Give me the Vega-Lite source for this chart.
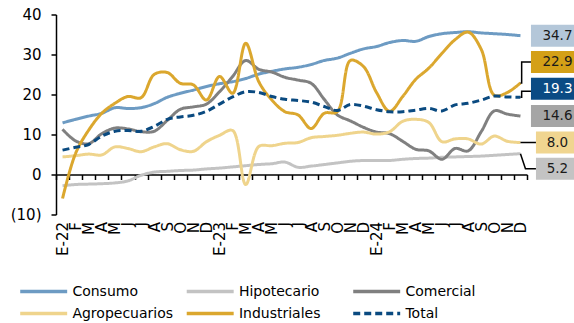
{
  "$schema": "https://vega.github.io/schema/vega-lite/v6.json",
  "width": 471,
  "height": 200,
  "autosize": {"type": "none"},
  "padding": {"left": 56, "top": 14.5, "right": 47, "bottom": 108.5},
  "config": {"view": {"stroke": null}, "font": "DejaVu Sans"},
  "data": {"values": [
    {"mes": "2022-01", "Consumo": 12.9, "Hipotecario": -2.8, "Comercial": 11.3, "Agropecuarios": 4.4, "Industriales": -6.0, "Total": 6.1},
    {"mes": "2022-02", "Consumo": 13.8, "Hipotecario": -2.5, "Comercial": 8.4, "Agropecuarios": 4.7, "Industriales": 5.3, "Total": 6.8},
    {"mes": "2022-03", "Consumo": 14.6, "Hipotecario": -2.4, "Comercial": 7.7, "Agropecuarios": 5.1, "Industriales": 11.1, "Total": 7.5},
    {"mes": "2022-04", "Consumo": 15.3, "Hipotecario": -2.3, "Comercial": 10.2, "Agropecuarios": 4.9, "Industriales": 15.3, "Total": 9.6},
    {"mes": "2022-05", "Consumo": 16.7, "Hipotecario": -2.1, "Comercial": 11.6, "Agropecuarios": 6.9, "Industriales": 17.8, "Total": 10.8},
    {"mes": "2022-06", "Consumo": 16.5, "Hipotecario": -1.6, "Comercial": 11.4, "Agropecuarios": 6.5, "Industriales": 19.5, "Total": 11.0},
    {"mes": "2022-07", "Consumo": 16.7, "Hipotecario": -0.2, "Comercial": 10.7, "Agropecuarios": 5.7, "Industriales": 19.2, "Total": 10.8},
    {"mes": "2022-08", "Consumo": 17.7, "Hipotecario": 0.6, "Comercial": 10.8, "Agropecuarios": 6.9, "Industriales": 25.0, "Total": 12.0},
    {"mes": "2022-09", "Consumo": 19.3, "Hipotecario": 0.8, "Comercial": 13.5, "Agropecuarios": 7.7, "Industriales": 25.5, "Total": 13.8},
    {"mes": "2022-10", "Consumo": 20.3, "Hipotecario": 1.0, "Comercial": 16.3, "Agropecuarios": 6.2, "Industriales": 22.8, "Total": 14.4},
    {"mes": "2022-11", "Consumo": 21.1, "Hipotecario": 1.1, "Comercial": 16.9, "Agropecuarios": 5.8, "Industriales": 22.4, "Total": 14.8},
    {"mes": "2022-12", "Consumo": 22.0, "Hipotecario": 1.4, "Comercial": 17.6, "Agropecuarios": 8.2, "Industriales": 18.6, "Total": 15.8},
    {"mes": "2023-01", "Consumo": 22.7, "Hipotecario": 1.6, "Comercial": 20.7, "Agropecuarios": 9.8, "Industriales": 24.5, "Total": 17.6},
    {"mes": "2023-02", "Consumo": 23.2, "Hipotecario": 1.9, "Comercial": 24.5, "Agropecuarios": 11.0, "Industriales": 20.3, "Total": 19.4},
    {"mes": "2023-03", "Consumo": 24.0, "Hipotecario": 2.2, "Comercial": 28.5, "Agropecuarios": -2.5, "Industriales": 32.8, "Total": 20.7},
    {"mes": "2023-04", "Consumo": 25.1, "Hipotecario": 2.5, "Comercial": 26.3, "Agropecuarios": 7.0, "Industriales": 23.2, "Total": 20.5},
    {"mes": "2023-05", "Consumo": 25.8, "Hipotecario": 2.7, "Comercial": 25.6, "Agropecuarios": 7.2, "Industriales": 18.6, "Total": 19.5},
    {"mes": "2023-06", "Consumo": 26.4, "Hipotecario": 3.1, "Comercial": 24.3, "Agropecuarios": 7.8, "Industriales": 15.7, "Total": 18.8},
    {"mes": "2023-07", "Consumo": 26.8, "Hipotecario": 1.8, "Comercial": 23.6, "Agropecuarios": 8.0, "Industriales": 14.9, "Total": 18.5},
    {"mes": "2023-08", "Consumo": 27.5, "Hipotecario": 2.1, "Comercial": 22.8, "Agropecuarios": 9.2, "Industriales": 11.5, "Total": 18.1},
    {"mes": "2023-09", "Consumo": 28.5, "Hipotecario": 2.5, "Comercial": 18.8, "Agropecuarios": 9.5, "Industriales": 15.3, "Total": 17.0},
    {"mes": "2023-10", "Consumo": 29.1, "Hipotecario": 2.9, "Comercial": 14.9, "Agropecuarios": 9.8, "Industriales": 15.7, "Total": 16.0},
    {"mes": "2023-11", "Consumo": 30.3, "Hipotecario": 3.3, "Comercial": 13.4, "Agropecuarios": 10.3, "Industriales": 28.5, "Total": 17.5},
    {"mes": "2023-12", "Consumo": 31.4, "Hipotecario": 3.5, "Comercial": 11.8, "Agropecuarios": 10.6, "Industriales": 27.0, "Total": 17.1},
    {"mes": "2024-01", "Consumo": 32.0, "Hipotecario": 3.5, "Comercial": 10.6, "Agropecuarios": 10.1, "Industriales": 20.5, "Total": 16.2},
    {"mes": "2024-02", "Consumo": 33.0, "Hipotecario": 3.5, "Comercial": 10.2, "Agropecuarios": 10.7, "Industriales": 15.8, "Total": 15.7},
    {"mes": "2024-03", "Consumo": 33.5, "Hipotecario": 3.8, "Comercial": 8.3, "Agropecuarios": 13.3, "Industriales": 19.5, "Total": 15.7},
    {"mes": "2024-04", "Consumo": 33.3, "Hipotecario": 4.0, "Comercial": 6.3, "Agropecuarios": 13.8, "Industriales": 23.8, "Total": 16.1},
    {"mes": "2024-05", "Consumo": 34.5, "Hipotecario": 4.1, "Comercial": 5.9, "Agropecuarios": 13.0, "Industriales": 26.6, "Total": 16.5},
    {"mes": "2024-06", "Consumo": 35.2, "Hipotecario": 4.3, "Comercial": 3.8, "Agropecuarios": 8.2, "Industriales": 30.3, "Total": 15.9},
    {"mes": "2024-07", "Consumo": 35.5, "Hipotecario": 4.4, "Comercial": 6.5, "Agropecuarios": 8.9, "Industriales": 33.7, "Total": 17.4},
    {"mes": "2024-08", "Consumo": 35.7, "Hipotecario": 4.5, "Comercial": 5.9, "Agropecuarios": 8.9, "Industriales": 35.6, "Total": 17.8},
    {"mes": "2024-09", "Consumo": 35.4, "Hipotecario": 4.6, "Comercial": 10.7, "Agropecuarios": 7.6, "Industriales": 31.3, "Total": 18.6},
    {"mes": "2024-10", "Consumo": 35.2, "Hipotecario": 4.8, "Comercial": 15.9, "Agropecuarios": 9.6, "Industriales": 19.8, "Total": 19.6},
    {"mes": "2024-11", "Consumo": 35.0, "Hipotecario": 5.0, "Comercial": 15.1, "Agropecuarios": 8.3, "Industriales": 20.5, "Total": 19.4},
    {"mes": "2024-12", "Consumo": 34.7, "Hipotecario": 5.2, "Comercial": 14.6, "Agropecuarios": 8.0, "Industriales": 22.9, "Total": 19.3}
  ]},
  "transform": [
    {"fold": ["Consumo", "Hipotecario", "Comercial", "Agropecuarios", "Industriales", "Total"], "as": ["serie", "valor"]}
  ],
  "encoding": {
    "x": {
      "field": "mes", "type": "ordinal", "sort": null,
      "scale": {"type": "band", "paddingInner": 0, "paddingOuter": 0},
      "axis": {
        "title": null, "orient": "bottom", "offset": -40,
        "domainColor": "black", "domainWidth": 1.5,
        "ticks": true, "tickBand": "extent", "tickSize": 5, "tickColor": "black", "tickWidth": 1.5,
        "labelAngle": 270, "labelPadding": 42, "labelFontSize": 15, "labelColor": "black",
        "labelOverlap": false, "grid": false,
        "labelExpr": "substring(datum.value,5,7) == '01' ? 'E-' + substring(datum.value,2,4) : ['','E','F','M','A','M','J','J','A','S','O','N','D'][toNumber(substring(datum.value,5,7))]"
      }
    },
    "y": {
      "field": "valor", "type": "quantitative",
      "scale": {"domain": [-10, 40], "nice": false, "zero": false},
      "axis": {
        "title": null, "values": [-10, 0, 10, 20, 30, 40], "grid": false,
        "domainColor": "black", "domainWidth": 1.5,
        "tickColor": "black", "tickWidth": 1.5, "tickSize": 5,
        "labelPadding": 10, "labelFontSize": 15, "labelColor": "black",
        "labelExpr": "datum.value < 0 ? '(' + abs(datum.value) + ')' : datum.label"
      }
    }
  },
  "resolve": {"scale": {"shape": "independent"}},
  "layer": [
    {
      "mark": {"type": "line", "interpolate": "catmull-rom", "strokeWidth": 3},
      "encoding": {
        "color": {
          "field": "serie", "type": "nominal",
          "scale": {
            "domain": ["Consumo", "Hipotecario", "Comercial", "Agropecuarios", "Industriales", "Total"],
            "range": ["#6d9bc3", "#c3c3c3", "#808080", "#efd48c", "#dba72e", "#0a4a80"]
          },
          "legend": {
            "title": null, "orient": "none", "legendX": -22.3, "legendY": 267,
            "direction": "horizontal", "columns": 3, "gridAlign": "all",
            "columnPadding": 5.5, "rowPadding": 5, "padding": 0,
            "symbolType": "M-3,0H3", "symbolSize": 245, "symbolStrokeWidth": 3.5,
            "labelFontSize": 14, "labelOffset": 18.7, "labelColor": "black"
          }
        },
        "strokeDash": {
          "field": "serie", "type": "nominal",
          "scale": {
            "domain": ["Consumo", "Hipotecario", "Comercial", "Agropecuarios", "Industriales", "Total"],
            "range": [[1, 0], [1, 0], [1, 0], [1, 0], [1, 0], [7, 4]]
          },
          "legend": {
            "title": null, "orient": "none", "legendX": -22.3, "legendY": 267,
            "direction": "horizontal", "columns": 3, "gridAlign": "all",
            "columnPadding": 5.5, "rowPadding": 5, "padding": 0,
            "symbolType": "M-3,0H3", "symbolSize": 245, "symbolStrokeWidth": 3.5,
            "labelFontSize": 14, "labelOffset": 18.7, "labelColor": "black"
          }
        }
      }
    },
    {
      "transform": [{"filter": "datum.mes == '2024-12' && indexof(['Industriales','Total','Agropecuarios','Hipotecario'], datum.serie) >= 0"}],
      "mark": {"type": "point", "filled": false, "opacity": 1, "size": 4, "stroke": "black", "strokeWidth": 1.5},
      "encoding": {
        "shape": {
          "field": "serie", "type": "nominal", "legend": null,
          "scale": {
            "domain": ["Industriales", "Total", "Agropecuarios", "Hipotecario"],
            "range": ["M0,0H1.2V-21H10.5", "M0,0H1.2V-6H10.5", "M0,0H15.5", "M0,0L5,15H15.5"]
          }
        }
      }
    },
    {
      "transform": [{"filter": "datum.mes == '2024-12'"}],
      "mark": {"type": "point", "filled": true, "opacity": 1, "size": 4, "strokeWidth": 0},
      "encoding": {
        "shape": {
          "field": "serie", "type": "nominal", "legend": null,
          "scale": {
            "domain": ["Consumo", "Hipotecario", "Comercial", "Agropecuarios", "Industriales", "Total"],
            "range": ["M10.5,-11H63.5V11H10.5Z", "M15.5,4H63.5V26H15.5Z", "M10.5,-11H63.5V11H10.5Z", "M15.5,-11H63.5V11H15.5Z", "M10.5,-32H63.5V-10H10.5Z", "M10.5,-19.5H63.5V2.5H10.5Z"]
          }
        },
        "fill": {
          "field": "serie", "type": "nominal", "legend": null,
          "scale": {
            "domain": ["Consumo", "Hipotecario", "Comercial", "Agropecuarios", "Industriales", "Total"],
            "range": ["#b4c7d9", "#c3c3c3", "#a5a5a5", "#f0d590", "#d4a017", "#0b4b84"]
          }
        }
      }
    },
    {
      "transform": [{"filter": "datum.mes == '2024-12' && indexof(['Consumo','Comercial','Agropecuarios'], datum.serie) >= 0"}],
      "mark": {"type": "text", "dx": 37, "align": "center", "baseline": "middle", "fontSize": 13.5, "fill": "#1a1a1a"},
      "encoding": {"text": {"field": "valor", "type": "quantitative", "format": ".1f"}}
    },
    {
      "transform": [{"filter": "datum.mes == '2024-12' && datum.serie == 'Industriales'"}],
      "mark": {"type": "text", "dx": 37, "dy": -21, "align": "center", "baseline": "middle", "fontSize": 13.5, "fill": "#1a1a1a"},
      "encoding": {"text": {"field": "valor", "type": "quantitative", "format": ".1f"}}
    },
    {
      "transform": [{"filter": "datum.mes == '2024-12' && datum.serie == 'Total'"}],
      "mark": {"type": "text", "dx": 37, "dy": -8.5, "align": "center", "baseline": "middle", "fontSize": 13.5, "fill": "white"},
      "encoding": {"text": {"field": "valor", "type": "quantitative", "format": ".1f"}}
    },
    {
      "transform": [{"filter": "datum.mes == '2024-12' && datum.serie == 'Hipotecario'"}],
      "mark": {"type": "text", "dx": 37, "dy": 15, "align": "center", "baseline": "middle", "fontSize": 13.5, "fill": "#1a1a1a"},
      "encoding": {"text": {"field": "valor", "type": "quantitative", "format": ".1f"}}
    }
  ]
}
